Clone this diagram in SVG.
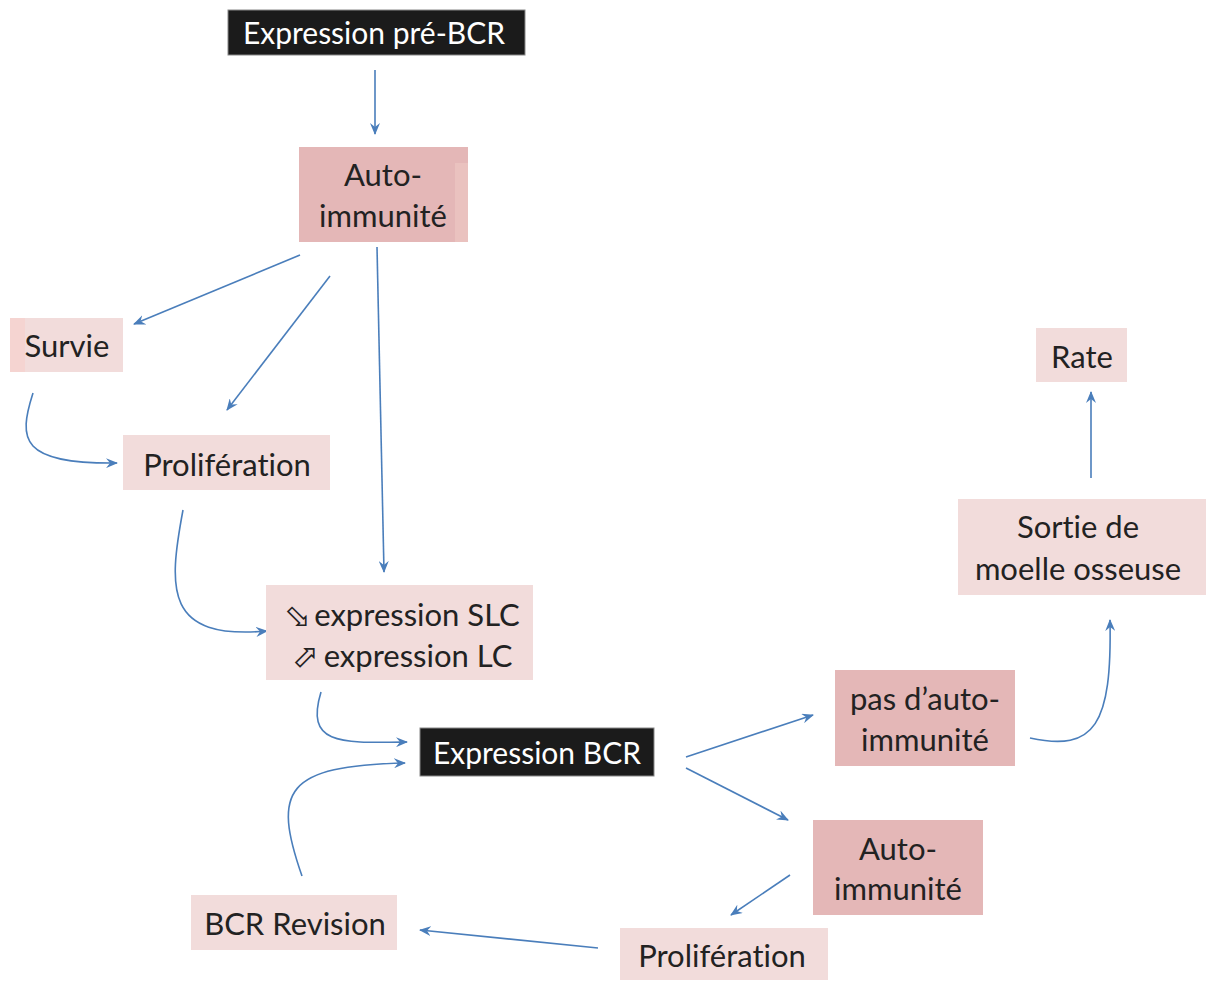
<svg xmlns="http://www.w3.org/2000/svg" width="1213" height="981" viewBox="0 0 1213 981">
<defs>
<style>
.t{font-family:Lato,"Liberation Sans",sans-serif;font-size:31px;fill:#222;text-anchor:middle;font-variant-ligatures:none}
.w{fill:#fff;font-size:30px}
.lp{fill:#f2dcdb}
.dp{fill:#e4b7b7}
.bk{fill:#1b1b1b;stroke:#888;stroke-width:1}
.c{fill:none;stroke:#4a7ebb;stroke-width:1.6;marker-end:url(#ah)}
.sym{font-family:"DejaVu Sans",sans-serif;font-size:32px;fill:#222}
</style>
<marker id="ah" viewBox="0 0 12 10" refX="11" refY="5" markerWidth="12" markerHeight="10" markerUnits="userSpaceOnUse" orient="auto">
<path d="M0,0 L12,5 L0,10 L4,5 z" fill="#4a7ebb"/>
</marker>
</defs>
<rect width="1213" height="981" fill="#fff"/>

<g id="connectors">
<path class="c" d="M375,70 L375,134"/>
<path class="c" d="M300,255 L134,324"/>
<path class="c" d="M330,276 L227,410"/>
<path class="c" d="M377,247 L384,572"/>
<path class="c" d="M33,393 C18,440 20,464 117,463"/>
<path class="c" d="M183,510 C168,590 165,640 267,631"/>
<path class="c" d="M321,692 C305,745 340,743 407,742"/>
<path class="c" d="M302,876 C272,790 285,766 405,763"/>
<path class="c" d="M686,757 L813,715"/>
<path class="c" d="M686,768 L788,820"/>
<path class="c" d="M790,875 L731,915"/>
<path class="c" d="M598,948 L420,930"/>
<path class="c" d="M1030,738 C1095,752 1112,725 1110,620"/>
<path class="c" d="M1091,478 L1091,392"/>
</g>

<g id="n-prebcr">
<rect class="bk" x="228" y="10" width="297" height="45"/>
<text class="t w" x="374" y="44">Expression pré-BCR</text>
</g>

<g id="n-auto1">
<rect class="dp" x="299" y="147" width="169" height="95"/>
<rect x="455" y="163" width="13" height="79" fill="#eac2bf"/>
<text class="t" x="383" y="186">Auto-</text>
<text class="t" x="383" y="227">immunité</text>
</g>

<g id="n-survie">
<rect class="lp" x="10" y="318" width="113" height="54"/>
<rect x="10" y="318" width="15" height="54" fill="#f5d4d1"/>
<text class="t" x="67" y="357">Survie</text>
</g>

<g id="n-prolif1">
<rect class="lp" x="123" y="435" width="207" height="55"/>
<text class="t" x="227" y="476">Prolifération</text>
</g>

<g id="n-slc">
<rect class="lp" x="266" y="585" width="267" height="95"/>
<text class="sym" x="284" y="627">⬂</text>
<text class="t" x="417" y="626">expression SLC</text>
<text class="sym" x="292" y="667">⬀</text>
<text class="t" x="418" y="667">expression LC</text>
</g>

<g id="n-bcr">
<rect class="bk" x="420" y="728" width="234" height="48"/>
<text class="t w" x="537" y="764">Expression BCR</text>
</g>

<g id="n-pasauto">
<rect class="dp" x="835" y="670" width="180" height="96"/>
<text class="t" x="925" y="710">pas d’auto-</text>
<text class="t" x="925" y="751">immunité</text>
</g>

<g id="n-auto2">
<rect class="dp" x="813" y="820" width="170" height="95"/>
<text class="t" x="898" y="860">Auto-</text>
<text class="t" x="898" y="900">immunité</text>
</g>

<g id="n-prolif2">
<rect class="lp" x="620" y="928" width="208" height="52"/>
<text class="t" x="722" y="967">Prolifération</text>
</g>

<g id="n-revision">
<rect class="lp" x="191" y="895" width="206" height="55"/>
<text class="t" x="295" y="935">BCR Revision</text>
</g>

<g id="n-rate">
<rect class="lp" x="1036" y="328" width="91" height="54"/>
<text class="t" x="1082" y="368">Rate</text>
</g>

<g id="n-sortie">
<rect class="lp" x="958" y="499" width="248" height="96"/>
<text class="t" x="1078" y="538">Sortie de</text>
<text class="t" x="1078" y="580">moelle osseuse</text>
</g>
</svg>
